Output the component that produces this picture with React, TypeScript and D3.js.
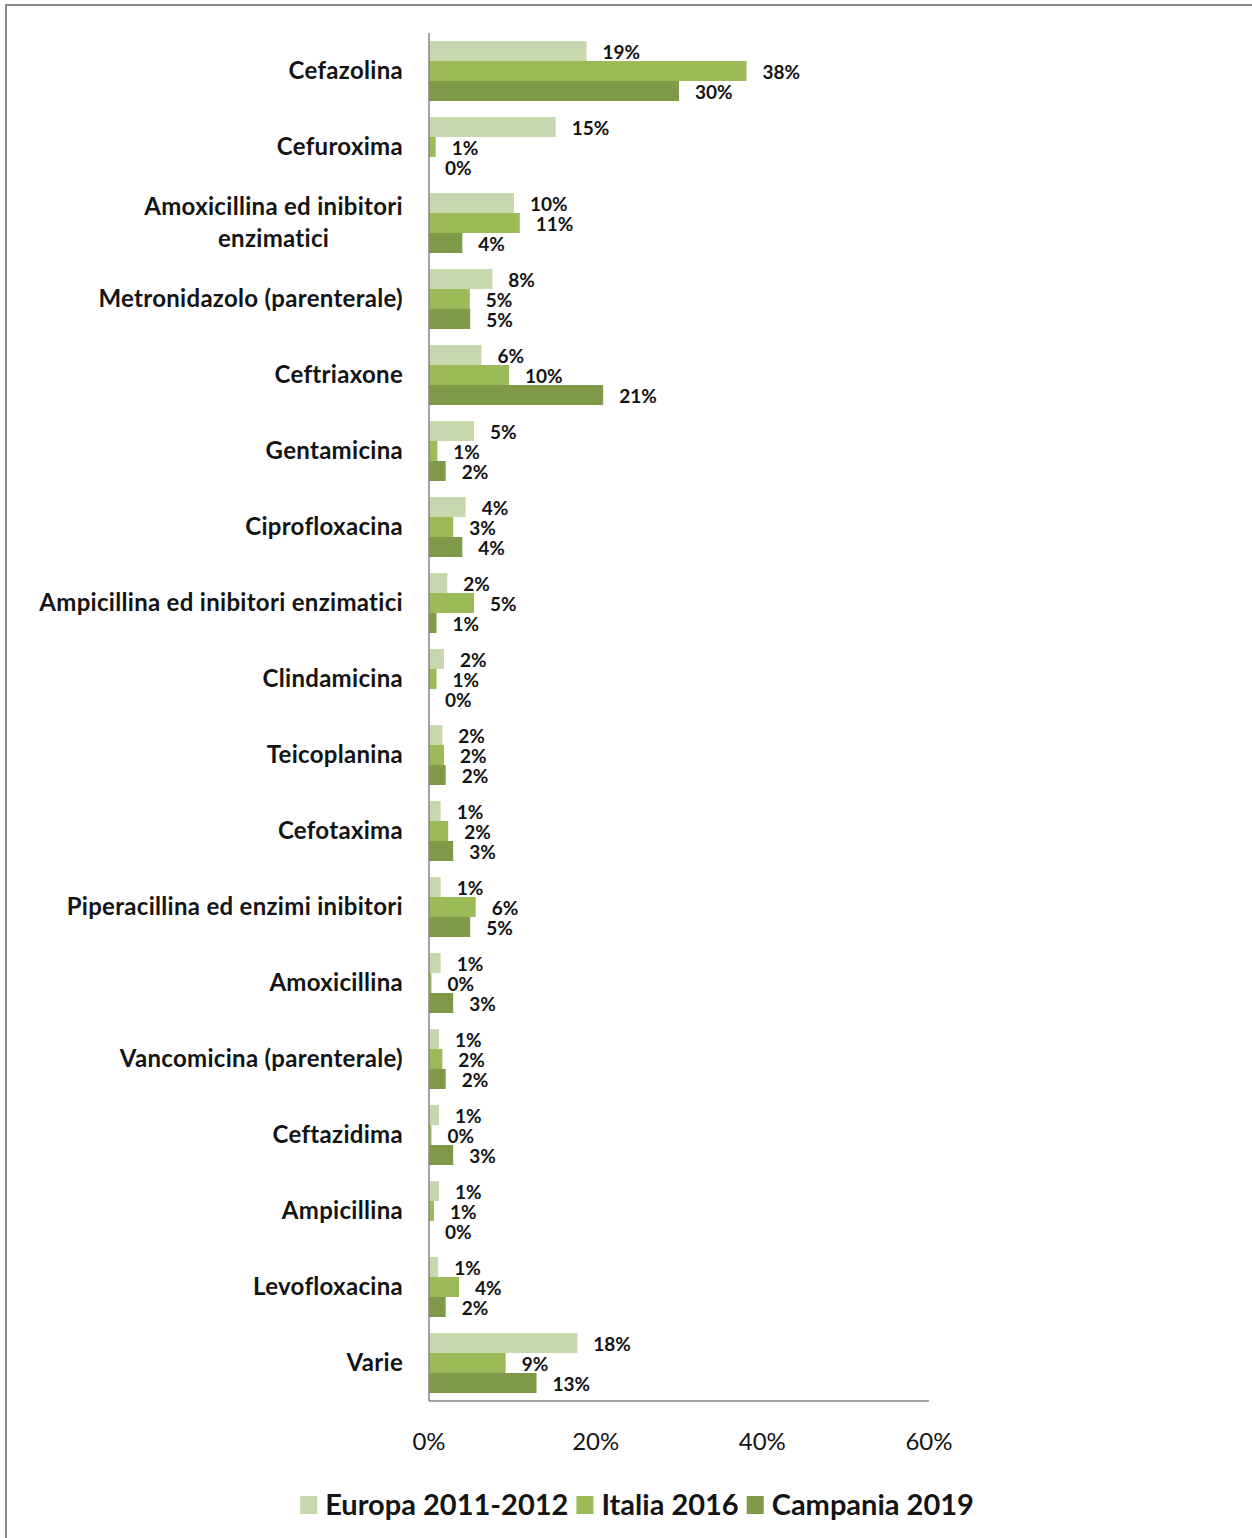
import React, { useEffect, useRef } from "react";
import * as d3 from "d3";

const categories = [
  "Cefazolina",
  "Cefuroxima",
  "Amoxicillina ed inibitori|enzimatici",
  "Metronidazolo (parenterale)",
  "Ceftriaxone",
  "Gentamicina",
  "Ciprofloxacina",
  "Ampicillina ed inibitori enzimatici",
  "Clindamicina",
  "Teicoplanina",
  "Cefotaxima",
  "Piperacillina ed enzimi inibitori",
  "Amoxicillina",
  "Vancomicina (parenterale)",
  "Ceftazidima",
  "Ampicillina",
  "Levofloxacina",
  "Varie",
];

const seriesNames = ["Europa 2011-2012", "Italia 2016", "Campania 2019"];

const europa = [18.9, 15.2, 10.2, 7.6, 6.3, 5.4, 4.4, 2.2, 1.8, 1.6, 1.4, 1.4, 1.4, 1.2, 1.2, 1.2, 1.1, 17.8];
const italia = [38.1, 0.8, 10.9, 4.9, 9.6, 1.0, 2.9, 5.4, 0.9, 1.8, 2.3, 5.6, 0.3, 1.6, 0.3, 0.6, 3.6, 9.2];
const campania = [30.0, 0.0, 4.0, 4.95, 20.9, 2.0, 4.0, 0.9, 0.0, 2.0, 2.9, 4.95, 2.9, 2.0, 2.9, 0.0, 2.0, 12.9];

const xTicks = [0, 20, 40, 60];
const colors = ["#c8d8ae", "#9bbb59", "#7f9a48"];

const FONT = "Lato, 'Open Sans', sans-serif";

export default function App() {
  const ref = useRef<SVGSVGElement | null>(null);

  useEffect(() => {
    const svg = d3.select(ref.current);
    svg.selectAll("*").remove();

    const W = 1252;
    const H = 1538;
    svg.attr("width", W).attr("height", H);

    // outer border
    svg
      .append("rect")
      .attr("x", 6)
      .attr("y", 5)
      .attr("width", W + 20)
      .attr("height", H + 20)
      .attr("fill", "white")
      .attr("stroke", "#8c8c8c")
      .attr("stroke-width", 2);

    const x = d3.scaleLinear().domain([0, 60]).range([429, 929]);
    const y = d3
      .scaleBand<string>()
      .domain(categories)
      .range([33, 1401])
      .paddingInner(16 / 76)
      .paddingOuter(8 / 76);
    const ys = d3.scaleBand<string>().domain(seriesNames).range([0, y.bandwidth()]);

    const seriesData = [europa, italia, campania];
    const g = svg.append("g");

    seriesData.forEach((vals, si) => {
      const sName = seriesNames[si];
      const grp = g.append("g");
      grp
        .selectAll("rect")
        .data(vals)
        .join("rect")
        .attr("x", x(0))
        .attr("y", (_, i) => (y(categories[i]) as number) + (ys(sName) as number))
        .attr("width", (d) => Math.max(0, x(d) - x(0)))
        .attr("height", ys.bandwidth())
        .attr("fill", colors[si]);
      grp
        .selectAll("text")
        .data(vals)
        .join("text")
        .attr("x", (d) => x(d) + 16)
        .attr("y", (_, i) => (y(categories[i]) as number) + (ys(sName) as number) + ys.bandwidth() / 2 + 7.5)
        .attr("font-family", FONT)
        .attr("font-weight", "bold")
        .attr("font-size", 19)
        .attr("fill", "#141414")
        .text((d) => `${Math.round(d)}%`);
    });

    // axes lines
    svg
      .append("line")
      .attr("x1", x(0))
      .attr("x2", x(0))
      .attr("y1", 33)
      .attr("y2", 1401)
      .attr("stroke", "#868686")
      .attr("stroke-width", 1.5);
    svg
      .append("line")
      .attr("x1", x(0))
      .attr("x2", x(60))
      .attr("y1", 1401)
      .attr("y2", 1401)
      .attr("stroke", "#868686")
      .attr("stroke-width", 1.5);

    // x tick labels
    svg
      .append("g")
      .selectAll("text")
      .data(xTicks)
      .join("text")
      .attr("x", (d) => x(d))
      .attr("y", 1450)
      .attr("text-anchor", "middle")
      .attr("font-family", FONT)
      .attr("font-size", 24)
      .attr("fill", "#141414")
      .text((d) => `${d}%`);

    // category labels
    const cat = svg.append("g");
    const labelRight = 403;
    categories.forEach((c) => {
      const lines = c.split("|");
      const cy = (y(c) as number) + y.bandwidth() / 2;
      const lh = 32;
      const nodes = lines.map((ln) =>
        cat
          .append("text")
          .attr("font-family", FONT)
          .attr("font-weight", "bold")
          .attr("font-size", 24)
          .attr("letter-spacing", 0.3)
          .attr("fill", "#141414")
          .text(ln)
      );
      const widths = nodes.map((n) => (n.node() as SVGTextElement).getComputedTextLength());
      const maxW = Math.max(...widths);
      const cx = labelRight - maxW / 2;
      nodes.forEach((n, li) => {
        n.attr("x", lines.length > 1 ? cx : labelRight)
          .attr("text-anchor", lines.length > 1 ? "middle" : "end")
          .attr("y", cy + (li - (lines.length - 1) / 2) * lh + 8);
      });
    });

    // legend
    const leg = svg.append("g");
    const sw = 17;
    const gapAfterSw = 8;
    const gapItems = 8;
    const legFont = 29;
    const items: { name: string; color: string; w: number }[] = [];
    seriesNames.forEach((n, i) => {
      const t = leg
        .append("text")
        .attr("font-family", FONT)
        .attr("font-weight", "bold")
        .attr("font-size", legFont)
        .text(n);
      const w = (t.node() as SVGTextElement).getComputedTextLength();
      t.remove();
      items.push({ name: n, color: colors[i], w });
    });
    const total = items.reduce((s, it) => s + sw + gapAfterSw + it.w, 0) + gapItems * (items.length - 1);
    let lx = 637 - total / 2;
    items.forEach((it) => {
      leg
        .append("rect")
        .attr("x", lx)
        .attr("y", 1496)
        .attr("width", sw)
        .attr("height", 18)
        .attr("fill", it.color);
      leg
        .append("text")
        .attr("x", lx + sw + gapAfterSw)
        .attr("y", 1515)
        .attr("font-family", FONT)
        .attr("font-weight", "bold")
        .attr("font-size", legFont)
        .attr("fill", "#141414")
        .text(it.name);
      lx += sw + gapAfterSw + it.w + gapItems;
    });
  }, []);

  return (
    <svg
      ref={ref}
      style={{ position: "absolute", left: 0, top: 0, display: "block", background: "white" }}
    />
  );
}
